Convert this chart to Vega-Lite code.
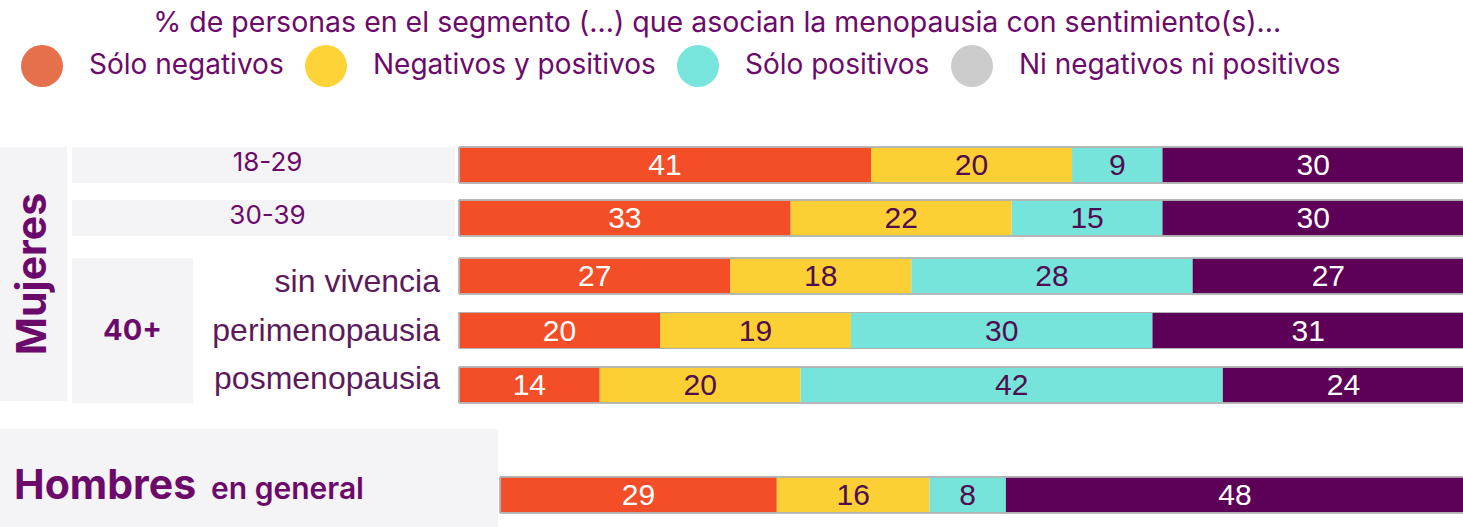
{
  "$schema": "https://vega.github.io/schema/vega-lite/v6.json",
  "padding": {"left": 0, "right": 0, "top": 8, "bottom": 0},
  "background": "white",
  "title": {
    "text": "% de personas en el segmento (...) que asocian la menopausia con sentimiento(s)...",
    "anchor": "middle", "font": "Inter", "fontSize": 28.5, "fontWeight": "normal",
    "color": "#6c0a6c", "dx": -15, "offset": 8
  },
  "config": {"view": {"stroke": null}},
  "datasets": {
    "leyenda": [
      {"categoria": "Sólo negativos"},
      {"categoria": "Negativos y positivos"},
      {"categoria": "Sólo positivos"},
      {"categoria": "Ni negativos ni positivos"}
    ],
    "jovenes": [
      {"grupo": "18-29", "sentimiento": "Sólo negativos", "orden": 1, "valor": 41},
      {"grupo": "18-29", "sentimiento": "Negativos y positivos", "orden": 2, "valor": 20},
      {"grupo": "18-29", "sentimiento": "Sólo positivos", "orden": 3, "valor": 9},
      {"grupo": "18-29", "sentimiento": "Ni negativos ni positivos", "orden": 4, "valor": 30},
      {"grupo": "30-39", "sentimiento": "Sólo negativos", "orden": 1, "valor": 33},
      {"grupo": "30-39", "sentimiento": "Negativos y positivos", "orden": 2, "valor": 22},
      {"grupo": "30-39", "sentimiento": "Sólo positivos", "orden": 3, "valor": 15},
      {"grupo": "30-39", "sentimiento": "Ni negativos ni positivos", "orden": 4, "valor": 30}
    ],
    "mayores": [
      {"grupo": "sin vivencia", "sentimiento": "Sólo negativos", "orden": 1, "valor": 27},
      {"grupo": "sin vivencia", "sentimiento": "Negativos y positivos", "orden": 2, "valor": 18},
      {"grupo": "sin vivencia", "sentimiento": "Sólo positivos", "orden": 3, "valor": 28},
      {"grupo": "sin vivencia", "sentimiento": "Ni negativos ni positivos", "orden": 4, "valor": 27},
      {"grupo": "perimenopausia", "sentimiento": "Sólo negativos", "orden": 1, "valor": 20},
      {"grupo": "perimenopausia", "sentimiento": "Negativos y positivos", "orden": 2, "valor": 19},
      {"grupo": "perimenopausia", "sentimiento": "Sólo positivos", "orden": 3, "valor": 30},
      {"grupo": "perimenopausia", "sentimiento": "Ni negativos ni positivos", "orden": 4, "valor": 31},
      {"grupo": "posmenopausia", "sentimiento": "Sólo negativos", "orden": 1, "valor": 14},
      {"grupo": "posmenopausia", "sentimiento": "Negativos y positivos", "orden": 2, "valor": 20},
      {"grupo": "posmenopausia", "sentimiento": "Sólo positivos", "orden": 3, "valor": 42},
      {"grupo": "posmenopausia", "sentimiento": "Ni negativos ni positivos", "orden": 4, "valor": 24}
    ],
    "hombres": [
      {"grupo": "Hombres", "sentimiento": "Sólo negativos", "orden": 1, "valor": 29},
      {"grupo": "Hombres", "sentimiento": "Negativos y positivos", "orden": 2, "valor": 16},
      {"grupo": "Hombres", "sentimiento": "Sólo positivos", "orden": 3, "valor": 8},
      {"grupo": "Hombres", "sentimiento": "Ni negativos ni positivos", "orden": 4, "valor": 48}
    ]
  },
  "vconcat": [
    {
      "width": 1463, "height": 1,
      "data": {"name": "leyenda"},
      "mark": {"type": "point", "filled": true, "opacity": 0},
      "encoding": {
        "fill": {"field": "categoria", "type": "nominal",
          "scale": {"domain": ["Sólo negativos", "Negativos y positivos", "Sólo positivos", "Ni negativos ni positivos"], "range": ["#e5704b", "#fdd337", "#77e5dc", "#cccccc"]},
          "legend": {"orient": "top", "direction": "horizontal", "title": null, "symbolType": "circle", "symbolSize": 1764, "symbolOpacity": 1, "symbolStrokeWidth": 0,
            "labelFont": "Inter", "labelFontSize": 28, "labelColor": "#6c0a6c", "labelOffset": 26, "columnPadding": -14, "symbolOffset": 21, "padding": 0, "offset": 27, "labelLimit": 500}}
      }
    },
    {
      "hconcat": [
        {
          "width": 67, "height": 254,
          "view": {"fill": "#f4f4f6", "stroke": null},
          "data": {"values": [{"etiqueta": "Mujeres"}]},
          "mark": {"type": "text", "angle": 270, "font": "Inter", "fontSize": 41, "fontWeight": "bold", "color": "#6c0a6c", "align": "center", "baseline": "middle"},
          "encoding": {"text": {"field": "etiqueta", "type": "nominal"}}
        },
        {
          "vconcat": [
            {
              "hconcat": [
                {
                  "width": 383, "height": 89,
                  "data": {"values": [{"grupo": "18-29"}, {"grupo": "30-39"}]},
                  "layer": [
                    {
                      "mark": {"type": "rect", "fill": "#f4f4f6"},
                      "encoding": {
                        "y": {"field": "grupo", "type": "nominal", "sort": null, "axis": null, "scale": {"paddingInner": 0.32, "paddingOuter": 0}},
                        "x": {"value": 0}, "x2": {"value": "width"}
                      }
                    },
                    {
                      "mark": {"type": "text", "font": "Inter", "fontSize": 26, "color": "#6c0a6c", "align": "center", "baseline": "middle", "dy": -2, "dx": 4},
                      "encoding": {
                        "y": {"field": "grupo", "type": "nominal", "sort": null, "axis": null, "scale": {"paddingInner": 0.32, "paddingOuter": 0}},
                        "text": {"field": "grupo", "type": "nominal"}
                      }
                    }
                  ]
                },
                {
                  "width": 1005, "height": 89,
                  "data": {"name": "jovenes"},
                  "layer": [
                    {
                      "mark": {"type": "bar"},
                      "encoding": {
                        "y": {"field": "grupo", "type": "nominal", "sort": null, "axis": null, "scale": {"paddingInner": 0.32, "paddingOuter": 0}},
                        "x": {"field": "valor", "type": "quantitative", "stack": "normalize", "axis": null},
                        "color": {"field": "sentimiento", "type": "nominal", "legend": null,
                          "scale": {"domain": ["Sólo negativos", "Negativos y positivos", "Sólo positivos", "Ni negativos ni positivos"], "range": ["#f34e27", "#fcd034", "#77e4dc", "#5d0058"]}},
                        "order": {"field": "orden", "type": "quantitative"}
                      }
                    },
                    {
                      "mark": {"type": "rect", "fill": null, "stroke": "#b4b4b4", "strokeWidth": 1},
                      "encoding": {
                        "y": {"field": "grupo", "type": "nominal", "sort": null, "axis": null, "scale": {"paddingInner": 0.32, "paddingOuter": 0}},
                        "x": {"value": 0}, "x2": {"value": "width"}
                      }
                    },
                    {
                      "mark": {"type": "text", "font": "Liberation Sans", "fontSize": 30, "align": "center", "baseline": "middle", "dy": 1},
                      "encoding": {
                        "y": {"field": "grupo", "type": "nominal", "sort": null, "axis": null, "scale": {"paddingInner": 0.32, "paddingOuter": 0}},
                        "x": {"field": "valor", "type": "quantitative", "stack": "normalize", "bandPosition": 0.5, "axis": null},
                        "text": {"field": "valor", "type": "quantitative"},
                        "order": {"field": "orden", "type": "quantitative"},
                        "color": {"condition": {"test": "datum.orden == 1 || datum.orden == 4", "value": "white"}, "value": "#4f0e4f"}
                      }
                    }
                  ]
                }
              ],
              "spacing": 3
            },
            {
              "hconcat": [
                {
                  "width": 121, "height": 145,
                  "view": {"fill": "#f4f4f6", "stroke": null},
                  "data": {"values": [{"etiqueta": "40+"}]},
                  "mark": {"type": "text", "font": "Inter", "fontSize": 29, "fontWeight": "bold", "color": "#6c0a6c", "align": "center", "baseline": "middle"},
                  "encoding": {"text": {"field": "etiqueta", "type": "nominal"}}
                },
                {
                  "width": 259, "height": 145,
                  "data": {"values": [{"grupo": "sin vivencia"}, {"grupo": "perimenopausia"}, {"grupo": "posmenopausia"}]},
                  "mark": {"type": "text", "font": "Liberation Sans", "fontSize": 32, "color": "#5c1a5c", "align": "right", "baseline": "middle", "dx": -15},
                  "encoding": {
                    "y": {"field": "grupo", "type": "nominal", "sort": null, "axis": null, "scale": {"paddingInner": 0.34, "paddingOuter": 0}},
                    "x": {"value": "width"},
                    "text": {"field": "grupo", "type": "nominal"}
                  }
                },
                {
                  "width": 1005, "height": 145,
                  "data": {"name": "mayores"},
                  "layer": [
                    {
                      "mark": {"type": "bar"},
                      "encoding": {
                        "y": {"field": "grupo", "type": "nominal", "sort": null, "axis": null, "scale": {"paddingInner": 0.34, "paddingOuter": 0}},
                        "x": {"field": "valor", "type": "quantitative", "stack": "normalize", "axis": null},
                        "color": {"field": "sentimiento", "type": "nominal", "legend": null,
                          "scale": {"domain": ["Sólo negativos", "Negativos y positivos", "Sólo positivos", "Ni negativos ni positivos"], "range": ["#f34e27", "#fcd034", "#77e4dc", "#5d0058"]}},
                        "order": {"field": "orden", "type": "quantitative"}
                      }
                    },
                    {
                      "mark": {"type": "rect", "fill": null, "stroke": "#b4b4b4", "strokeWidth": 1},
                      "encoding": {
                        "y": {"field": "grupo", "type": "nominal", "sort": null, "axis": null, "scale": {"paddingInner": 0.34, "paddingOuter": 0}},
                        "x": {"value": 0}, "x2": {"value": "width"}
                      }
                    },
                    {
                      "mark": {"type": "text", "font": "Liberation Sans", "fontSize": 30, "align": "center", "baseline": "middle", "dy": 1},
                      "encoding": {
                        "y": {"field": "grupo", "type": "nominal", "sort": null, "axis": null, "scale": {"paddingInner": 0.34, "paddingOuter": 0}},
                        "x": {"field": "valor", "type": "quantitative", "stack": "normalize", "bandPosition": 0.5, "axis": null},
                        "text": {"field": "valor", "type": "quantitative"},
                        "order": {"field": "orden", "type": "quantitative"},
                        "color": {"condition": {"test": "datum.orden == 1 || datum.orden == 4", "value": "white"}, "value": "#4f0e4f"}
                      }
                    }
                  ]
                }
              ],
              "spacing": 3
            }
          ],
          "spacing": 20
        }
      ],
      "spacing": 5
    },
    {
      "hconcat": [
        {
          "width": 498, "height": 99,
          "view": {"fill": "#f4f4f6", "stroke": null},
          "data": {"values": [{"grupo": "Hombres", "detalle": "en general"}]},
          "layer": [
            {
              "mark": {"type": "text", "font": "Inter", "fontSize": 41, "fontWeight": "bold", "color": "#6c0a6c", "align": "left", "baseline": "alphabetic"},
              "encoding": {"x": {"value": 14}, "y": {"value": 70}, "text": {"field": "grupo", "type": "nominal"}}
            },
            {
              "mark": {"type": "text", "font": "Inter", "fontSize": 30, "fontWeight": 600, "color": "#6c0a6c", "align": "left", "baseline": "alphabetic"},
              "encoding": {"x": {"value": 211}, "y": {"value": 70}, "text": {"field": "detalle", "type": "nominal"}}
            }
          ]
        },
        {
          "width": 964, "height": 99,
          "data": {"name": "hombres"},
          "layer": [
            {
              "mark": {"type": "bar"},
              "encoding": {
                "y": {"field": "grupo", "type": "nominal", "axis": null, "scale": {"paddingInner": 0, "paddingOuter": 0.875, "align": 0.76}},
                "x": {"field": "valor", "type": "quantitative", "stack": "normalize", "axis": null},
                "color": {"field": "sentimiento", "type": "nominal", "legend": null,
                  "scale": {"domain": ["Sólo negativos", "Negativos y positivos", "Sólo positivos", "Ni negativos ni positivos"], "range": ["#f34e27", "#fcd034", "#77e4dc", "#5d0058"]}},
                "order": {"field": "orden", "type": "quantitative"}
              }
            },
            {
              "mark": {"type": "rect", "fill": null, "stroke": "#b4b4b4", "strokeWidth": 1},
              "encoding": {
                "y": {"field": "grupo", "type": "nominal", "axis": null, "scale": {"paddingInner": 0, "paddingOuter": 0.875, "align": 0.76}},
                "x": {"value": 0}, "x2": {"value": "width"}
              }
            },
            {
              "mark": {"type": "text", "font": "Liberation Sans", "fontSize": 30, "align": "center", "baseline": "middle", "dy": 1},
              "encoding": {
                "y": {"field": "grupo", "type": "nominal", "axis": null, "scale": {"paddingInner": 0, "paddingOuter": 0.875, "align": 0.76}},
                "x": {"field": "valor", "type": "quantitative", "stack": "normalize", "bandPosition": 0.5, "axis": null},
                "text": {"field": "valor", "type": "quantitative"},
                "order": {"field": "orden", "type": "quantitative"},
                "color": {"condition": {"test": "datum.orden == 1 || datum.orden == 4", "value": "white"}, "value": "#4f0e4f"}
              }
            }
          ]
        }
      ],
      "spacing": 1
    }
  ],
  "spacing": 25
}
